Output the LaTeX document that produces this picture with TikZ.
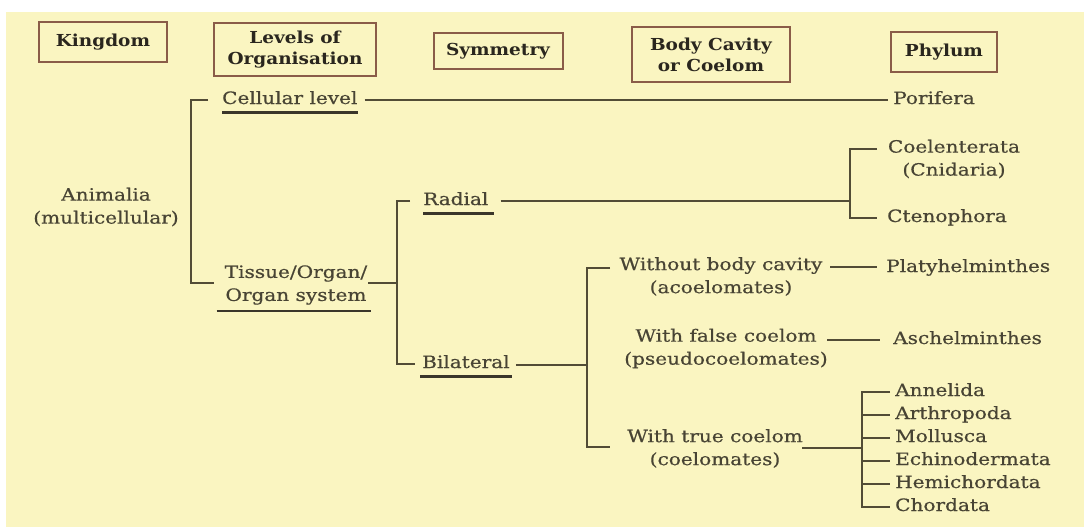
\documentclass[tikz,border=0pt]{standalone}
\usepackage{fontspec}
\setmainfont[FakeStretch=1.18,FakeBold=0.6]{DejaVu Serif}
\newfontfamily\headfont[FakeStretch=1.12]{DejaVu Serif}
\definecolor{paper}{RGB}{250,245,193}
\definecolor{ink}{RGB}{82,76,54}
\definecolor{uink}{RGB}{58,54,42}
\definecolor{txtc}{RGB}{72,68,52}
\definecolor{hdr}{RGB}{42,38,30}
\definecolor{boxc}{RGB}{138,92,72}
\begin{document}
\begin{tikzpicture}[x=1pt,y=-1pt,
  conn/.style={draw=ink,line width=2.4pt},
  uline/.style={draw=uink,line width=2.6pt},
  txt/.style={text=txtc,inner sep=0pt,font=\fontsize{17}{23}\selectfont},
  one/.style={txt,anchor=west,text height=12pt,text depth=4pt},
  hbox/.style={draw=boxc,line width=2pt,text=hdr,inner sep=0pt,align=center,
    font=\headfont\fontsize{16.5}{21}\selectfont\bfseries},
]
% page and chart background
\useasboundingbox (0,0) rectangle (1084,527);
\fill[white] (0,0) rectangle (1084,527);
\fill[paper] (6,12) rectangle (1084,527);

% column headings
\node[hbox,minimum width=128,minimum height=40] (hkingdom) at (103,42) {Kingdom};
\node[hbox,minimum width=162,minimum height=53] (hlevels) at (295,49.5) {Levels of\\Organisation};
\node[hbox,minimum width=129,minimum height=36] (hsym) at (498,51) {Symmetry};
\node[hbox,minimum width=158,minimum height=55] (hcavity) at (711,54.5) {Body Cavity\\or Coelom};
\node[hbox,minimum width=106,minimum height=40] (hphylum) at (944,52) {Phylum};

% kingdom and levels of organisation
\node[txt,align=center] (animalia) at (106,207) {Animalia\\(multicellular)};
\node[one] (cell) at (222,100) {Cellular level};
\node[txt,align=center] (tissue) at (296,285) {Tissue/Organ/\\Organ system};
\coordinate (ktop) at (191,100);
\coordinate (kbot) at (191,283);
\draw[conn] ([xshift=-14pt]cell.west) -- (ktop) -- (kbot) -- ([xshift=-11pt]tissue.west |- kbot);
\draw[uline] ([yshift=-4pt]cell.south west) -- ([yshift=-4pt]cell.south east);
\draw[uline] ([xshift=-8pt,yshift=-6pt]tissue.south west) -- ([xshift=4pt,yshift=-6pt]tissue.south east);

% porifera
\node[one] (porifera) at (893,100) {Porifera};
\draw[conn] ([xshift=7pt]cell.east) -- ([xshift=-5pt]porifera.west);

% symmetry
\node[one] (radial) at (423,201) {Radial};
\node[one] (bilateral) at (422,364) {Bilateral};
\coordinate (sspine) at (397,283);
\draw[conn] ([xshift=1pt]tissue.east |- kbot) -- (sspine);
\draw[conn] ([xshift=-13pt]radial.west) -| (sspine) |- ([xshift=-7pt]bilateral.west);
\draw[uline] ([yshift=-4pt]radial.south west) -- ([xshift=5pt,yshift=-4pt]radial.south east);
\draw[uline] ([xshift=-2pt,yshift=-4pt]bilateral.south west) -- ([xshift=2pt,yshift=-4pt]bilateral.south east);

% radial phyla
\node[txt,align=center] (coel) at (954,159) {Coelenterata\\(Cnidaria)};
\node[one] (cteno) at (887,218) {Ctenophora};
\coordinate (cspine) at (850,201);
\coordinate (coelin) at (877,149);
\draw[conn] ([xshift=12pt]radial.east) -- (cspine);
\draw[conn] (coelin) -| (cspine) |- ([xshift=-10pt]cteno.west);

% body cavity
\node[txt,align=center] (acoel) at (721,276.5) {Without body cavity\\(acoelomates)};
\node[txt,align=center] (pseudo) at (726,348.5) {With false coelom\\(pseudocoelomates)};
\node[txt,align=center] (coelo) at (715,448.5) {With true coelom\\(coelomates)};
\coordinate (bspine) at (587,365);
\coordinate (acoelin) at (610,268);
\coordinate (coeloin) at (610,447);
\draw[conn] ([xshift=6pt]bilateral.east |- bspine) -- (bspine);
\draw[conn] (acoelin) -| (bspine) |- (coeloin);

% bilateral phyla
\node[one] (platy) at (886,268) {Platyhelminthes};
\node[one] (aschel) at (893,340) {Aschelminthes};
\coordinate (acoelout) at (830,267);
\coordinate (pseudoout) at (827,340);
\coordinate (coeloout) at (802,448);
\draw[conn] (acoelout) -- ([xshift=-9pt]platy.west |- acoelout);
\draw[conn] (pseudoout) -- ([xshift=-13pt]aschel.west);

\node[one] (annelida) at (895,392) {Annelida};
\node[one] (arthro) at (895,415) {Arthropoda};
\node[one] (mollusca) at (895,438) {Mollusca};
\node[one] (echino) at (895,461) {Echinodermata};
\node[one] (hemi) at (895,484) {Hemichordata};
\node[one] (chordata) at (895,507) {Chordata};
\coordinate (pspine) at (862,448);
\draw[conn] (coeloout) -- (pspine);
\draw[conn] ([xshift=-5pt]annelida.west) -| (pspine) |- ([xshift=-5pt]chordata.west);
\foreach \p in {arthro,mollusca,echino,hemi}
  \draw[conn] (pspine |- \p.west) -- ([xshift=-5pt]\p.west);
\end{tikzpicture}
\end{document}
